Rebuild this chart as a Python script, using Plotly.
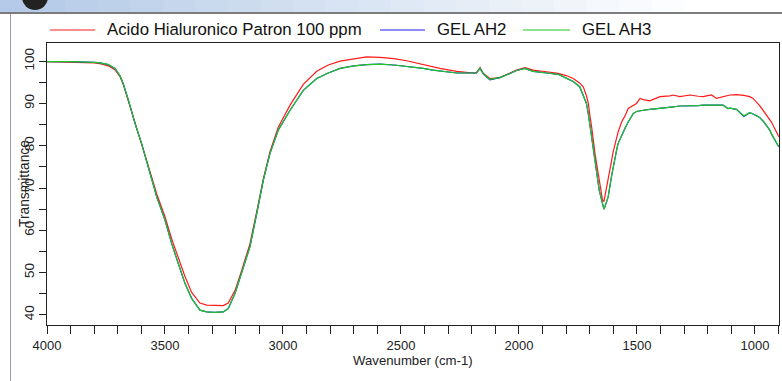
import plotly.graph_objects as go

# ---------------- data ----------------
wavenumber = [4000, 3900, 3800, 3775, 3740, 3712, 3690, 3677, 3655, 3627, 3599, 3564, 3535, 3500,
              3472, 3444, 3415, 3387, 3352, 3323, 3290, 3253, 3232, 3203, 3175, 3140, 3111, 3083,
              3055, 3020, 2970, 2914, 2857, 2808, 2758, 2700, 2646, 2589, 2530, 2476, 2406, 2364,
              2335, 2264, 2194, 2180, 2165, 2151, 2123, 2100, 2081, 2038, 2010, 1975, 1940, 1883,
              1834, 1800, 1770, 1742, 1727, 1714, 1706, 1699, 1692, 1678, 1660, 1646, 1640, 1636,
              1622, 1607, 1601, 1586, 1580, 1565, 1551, 1537, 1516, 1502, 1487, 1473, 1445, 1403,
              1360, 1346, 1318, 1290, 1275, 1240, 1219, 1205, 1184, 1163, 1135, 1114, 1106, 1078,
              1050, 1047, 1022, 1008, 980, 965, 937, 930, 902, 898]

acido_patron = [99.9, 99.8, 99.6, 99.4, 98.9, 98.0, 96.3, 94.5, 90.6, 85.5, 80.7, 74.0, 68.6, 63.2,
                58.0, 53.6, 49.0, 45.3, 42.8, 42.3, 42.2, 42.2, 42.8, 45.8, 50.5, 56.8, 64.5, 72.2,
                78.6, 84.4, 89.6, 94.5, 97.6, 99.1, 100.0, 100.6, 101.0, 100.9, 100.6, 100.1, 99.2, 98.7,
                98.3, 97.6, 97.2, 97.3, 98.5, 97.1, 95.9, 96.0, 96.1, 97.2, 97.9, 98.5, 97.9, 97.5,
                97.1, 96.6, 95.9, 94.8, 93.9, 91.8, 90.0, 87.0, 84.5, 78.2, 71.9, 67.2, 66.8, 67.9,
                71.9, 76.6, 78.5, 82.1, 83.2, 85.6, 87.0, 88.8, 89.5, 90.0, 91.2, 90.9, 90.6, 91.6,
                91.8, 92.0, 91.6, 91.9, 92.0, 91.7, 91.6, 91.8, 92.0, 91.2, 91.6, 91.9, 92.0, 92.1,
                92.0, 91.9, 91.6, 91.2, 89.5, 88.4, 86.3, 85.6, 82.5, 82.1]

gel_ah2 = [99.9, 99.9, 99.7, 99.6, 99.2, 98.3, 96.5, 94.7, 90.8, 85.3, 80.5, 73.5, 67.9, 62.4,
           56.9, 52.2, 47.4, 43.9, 41.1, 40.7, 40.6, 40.7, 41.5, 45.1, 49.8, 56.1, 64.0, 71.9,
           78.2, 83.7, 88.4, 93.1, 95.9, 97.2, 98.3, 98.9, 99.2, 99.3, 99.1, 98.8, 98.3, 97.9,
           97.7, 97.2, 97.2, 97.2, 98.3, 97.0, 95.6, 95.9, 96.1, 97.1, 97.8, 98.3, 97.6, 97.2,
           96.9, 96.0, 95.2, 93.9, 92.0, 90.0, 87.5, 84.5, 81.5, 76.6, 69.5, 66.0, 65.0, 65.5,
           67.9, 73.0, 75.0, 79.0, 80.5, 82.6, 84.1, 85.6, 87.6, 88.1, 88.3, 88.4, 88.6, 88.8,
           89.1, 89.2, 89.4, 89.4, 89.5, 89.5, 89.6, 89.6, 89.7, 89.7, 89.6, 88.8, 88.9, 88.6,
           87.2, 86.9, 87.8, 87.5, 86.7, 85.8, 83.7, 82.8, 80.0, 79.7]

gel_ah3 = [99.9, 99.9, 99.7, 99.6, 99.2, 98.3, 96.5, 94.7, 90.8, 85.3, 80.5, 73.5, 67.9, 62.4,
           56.9, 52.2, 47.4, 43.9, 41.1, 40.7, 40.6, 40.7, 41.5, 45.1, 49.8, 56.1, 64.0, 71.9,
           78.2, 83.7, 88.4, 93.1, 95.9, 97.2, 98.3, 98.9, 99.2, 99.3, 99.1, 98.8, 98.3, 97.9,
           97.7, 97.2, 97.2, 97.2, 98.3, 97.0, 95.7, 95.9, 96.1, 97.1, 97.8, 98.3, 97.6, 97.2,
           96.9, 96.0, 95.2, 93.9, 92.0, 90.0, 87.5, 84.5, 81.5, 76.6, 69.5, 66.0, 65.0, 65.5,
           67.9, 73.0, 75.0, 79.0, 80.5, 82.6, 84.1, 85.6, 87.6, 88.1, 88.3, 88.4, 88.6, 88.8,
           89.1, 89.2, 89.4, 89.4, 89.5, 89.5, 89.6, 89.6, 89.7, 89.7, 89.6, 88.8, 88.9, 88.6,
           87.3, 87.1, 87.8, 87.5, 86.7, 85.8, 83.7, 82.8, 80.1, 79.8]

series_names = ["Acido Hialuronico Patron 100 ppm", "GEL AH2", "GEL AH3"]
series_colors = ["#ff1a1a", "#1a1aff", "#1ec81e"]
x_ticks = [4000, 3500, 3000, 2500, 2000, 1500, 1000]
y_ticks = [40, 50, 60, 70, 80, 90, 100]

# ---------------- layout geometry (pixels) ----------------
W, H = 782, 381
L, R, T, B = 47, 3, 43, 56
PW, PH = W - L - R, H - T - B


def px(xp):
    return (xp - L) / PW


def py(yp):
    return (H - B - yp) / PH


FONT = "Liberation Sans, Arial, sans-serif"

fig = go.Figure()
for vals, name, col in zip([acido_patron, gel_ah2, gel_ah3], series_names, series_colors):
    fig.add_trace(go.Scatter(x=wavenumber, y=vals, mode="lines", name=name,
                             line=dict(color=col, width=1.2), showlegend=False))

shapes = []
annotations = []

# window chrome: gradient title strip
n = 24
c0 = (180, 202, 232)
for i in range(n):
    t = i / (n - 1)
    f = min(1.0, t / 0.9)
    c = tuple(int(c0[k] + (255 - c0[k]) * f) for k in range(3))
    x0 = i * W / n
    x1 = (i + 1) * W / n + 1
    shapes.append(dict(type="rect", xref="paper", yref="paper",
                       x0=px(x0), x1=px(x1), y0=py(12), y1=py(0),
                       fillcolor="rgb(%d,%d,%d)" % c, line=dict(width=0), layer="below"))
shapes.append(dict(type="line", xref="paper", yref="paper", x0=px(0), x1=px(W),
                   y0=py(13), y1=py(13), line=dict(color="#7c7c7c", width=2)))
shapes.append(dict(type="circle", xref="paper", yref="paper", x0=px(22), x1=px(48),
                   y0=py(10), y1=py(-16), fillcolor="#222222", line=dict(width=0)))
shapes.append(dict(type="line", xref="paper", yref="paper", x0=px(10.5), x1=px(10.5),
                   y0=py(14), y1=py(H), line=dict(color="#9a9ab2", width=1)))

# legend (manual)
leg = [(50, 95, 105), (380, 425, 435), (523, 570, 580)]
for (lx0, lx1, tx), name, col in zip(leg, series_names, series_colors):
    shapes.append(dict(type="line", xref="paper", yref="paper", x0=px(lx0), x1=px(lx1),
                       y0=py(30), y1=py(30), line=dict(color=col, width=1.2)))
    annotations.append(dict(text=name, xref="paper", yref="paper", x=px(tx), y=py(30),
                            xanchor="left", yanchor="middle", showarrow=False,
                            font=dict(family=FONT, size=16.8, color="#111111")))

annotations.append(dict(text="Transmittance", xref="paper", yref="paper", x=px(24), y=py(184),
                        xanchor="center", yanchor="middle", textangle=-90, showarrow=False,
                        font=dict(family=FONT, size=13.8, color="#222222")))
annotations.append(dict(text="Wavenumber (cm-1)", xref="paper", yref="paper", x=px(413), y=py(360),
                        xanchor="center", yanchor="middle", showarrow=False,
                        font=dict(family=FONT, size=13.2, color="#222222")))

fig.update_layout(
    width=W, height=H,
    margin=dict(l=L, r=R, t=T, b=B, pad=0),
    paper_bgcolor="white", plot_bgcolor="white",
    shapes=shapes, annotations=annotations,
    font=dict(family=FONT, size=13.5, color="#222222"),
    xaxis=dict(range=[4000, 898], tickvals=x_ticks, ticktext=[str(v) for v in x_ticks],
               ticks="outside", ticklen=8, tickwidth=1, tickcolor="#222222",
               minor=dict(dtick=100, tick0=0, ticks="outside", ticklen=8, tickcolor="#222222"),
               showline=True, linecolor="#222222", linewidth=1, mirror=True,
               showgrid=False, zeroline=False, automargin=False,
               tickfont=dict(family=FONT, size=13, color="#222222")),
    yaxis=dict(range=[37.6, 104.3], tickvals=y_ticks, ticktext=[str(v) for v in y_ticks],
               ticks="outside", ticklen=7, tickwidth=1, tickcolor="#222222",
               minor=dict(dtick=5, tick0=0, ticks="outside", ticklen=7, tickcolor="#222222"),
               showline=True, linecolor="#222222", linewidth=1, mirror=True,
               showgrid=False, zeroline=False, automargin=False, tickangle=-90,
               tickfont=dict(family=FONT, size=13.5, color="#222222")),
)

fig.write_html("out.html", config={"displayModeBar": False},
               post_script="document.body.style.margin='0';")
